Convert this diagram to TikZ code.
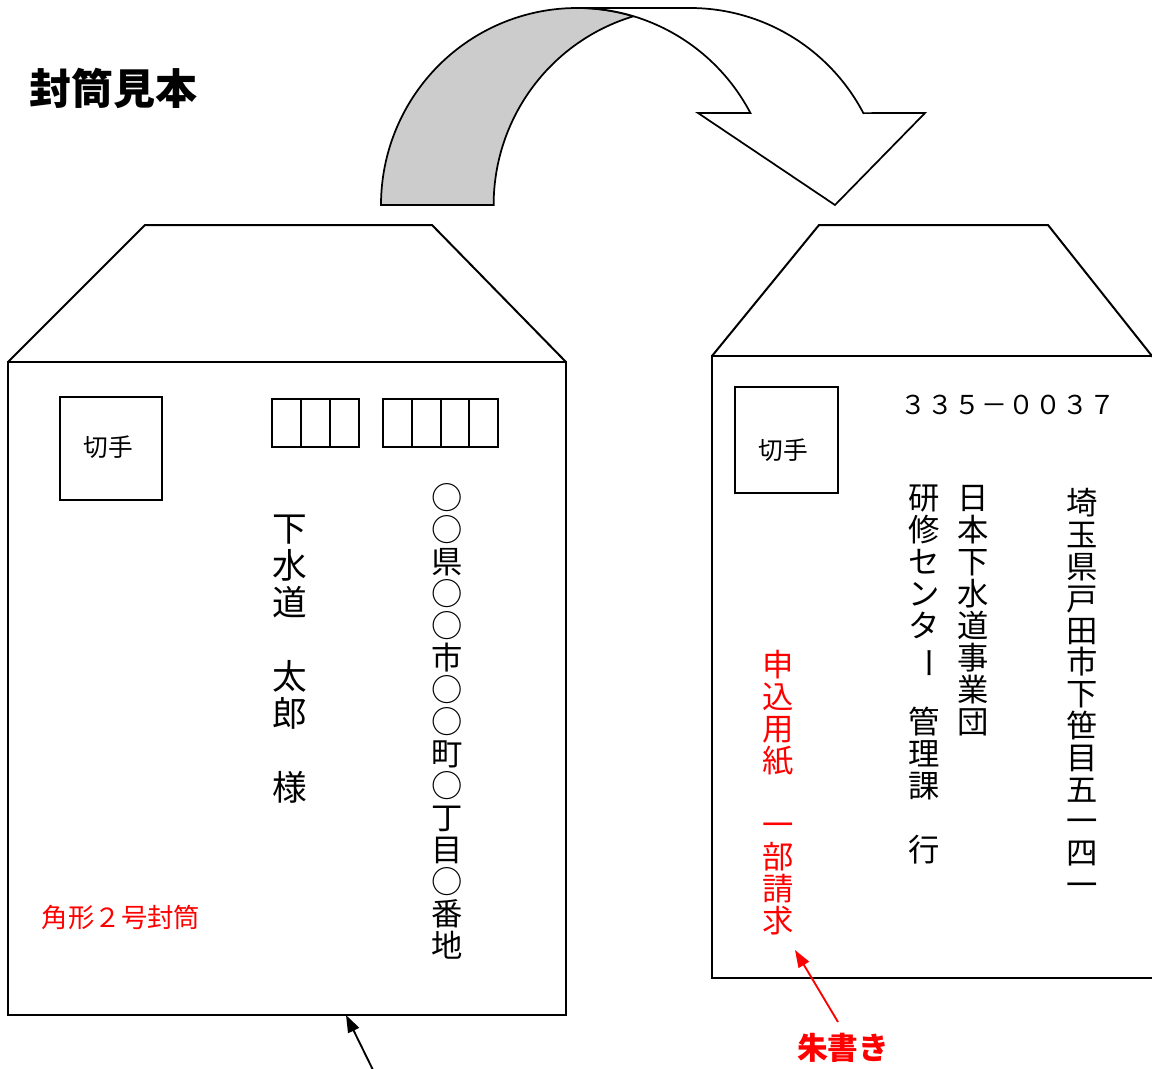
\documentclass[tikz,border=0pt]{standalone}
\usepackage{fontspec}
\usepackage{graphicx}
\usetikzlibrary{arrows.meta}
\newfontfamily\jp{Noto Sans CJK JP}
\definecolor{bandgrey}{RGB}{204,204,204}
\definecolor{jred}{RGB}{255,0,0}
\tikzset{
  envline/.style={line width=1.5pt, line join=miter},
  arcline/.style={line width=1.3pt, line join=miter},
  gridline/.style={line width=1.8pt},
  vch/.style={inner sep=0pt, anchor=base, font=\jp\fontsize{#1}{#1}\selectfont},
  arr/.style={line width=1.4pt, -{Triangle[length=13pt,width=9pt]}},
}
\begin{document}
\begin{tikzpicture}[x=0.75pt,y=-0.75pt]
\useasboundingbox (0,0) rectangle (1152,1068);
\clip (0,0) rectangle (1152,1068);

% title
\node[font=\jp\bfseries\fontsize{31.5pt}{31.5pt}\selectfont, inner sep=0pt] (title) at (113,88) {封筒見本};

% curved arrow
\filldraw[fill=bandgrey, arcline] (381,205)
  arc[start angle=180, end angle=286.7, x radius=196, y radius=197]
  arc[start angle=253.3, end angle=180, x radius=196, y radius=197] -- cycle;
\filldraw[fill=white, arcline] (577,8) -- (690,8)
  arc[start angle=270, end angle=332.2, x radius=196, y radius=197]
  -- (925,113) -- (835,205) -- (698,113) -- (750.4,113)
  arc[start angle=332.2, end angle=270, x radius=196, y radius=197] -- cycle;

% left envelope
\draw[envline] (8,362) -- (145,225) -- (432,225) -- (566,362);
\draw[envline] (8,362) rectangle (566,1015);
\draw[envline] (60,397) rectangle (162,500);
\node[font=\jp\fontsize{18.5pt}{18.5pt}\selectfont, inner sep=0pt] (stampL) at (108,447) {切手};
% postal grid
\draw[gridline] (272,399) rectangle (359,447);
\draw[gridline] (301,399) -- (301,447) (330,399) -- (330,447);
\draw[gridline] (383,399) rectangle (498,447);
\draw[gridline] (412,399) -- (412,447) (441,399) -- (441,447) (469,399) -- (469,447);
% name column
\foreach \c [count=\i from 0] in {下,水,道,{},太,郎,{},様}
  \node[vch=26pt] (nm\i) at (290,{528+37*\i+13.3}) {\c};
% address column
\foreach \c [count=\i from 0] in {○,○,県,○,○,市,○,○,町,○,丁,目,○,番,地}
  \node[vch=23.5pt] (ad\i) at (447,{498+32*\i+11.8}) {\c};
\node[font=\jp\fontsize{19.8pt}{19.8pt}\selectfont, text=jred, inner sep=0pt] (kaku) at (121,917) {角形２号封筒};

% right envelope
\draw[envline] (712,356) -- (819,225) -- (1048,225) -- (1165,372.4);
\draw[envline] (712,356) rectangle (1175,978);
\draw[envline] (735,387) rectangle (838,493);
\node[font=\jp\fontsize{18.5pt}{18.5pt}\selectfont, inner sep=0pt] (stampR) at (783,450) {切手};
\foreach \c [count=\i from 0] in {３,３,５,－,０,０,３,７}
  \node[vch=19.5pt] (zip\i) at ({913+27*\i},{405+9.5}) {\c};
\foreach \c [count=\i from 0] in {埼,玉,県,戸,田,市,下,笹,目,五,一,四,一}
  \node[vch=23.5pt] (to\i) at (1082,{503+31.8*\i+11.8}) {\c};
\foreach \c [count=\i from 0] in {日,本,下,水,道,事,業,団}
  \node[vch=23.5pt] (jg\i) at (973,{498+32*\i+11.8}) {\c};
\foreach \c [count=\i from 0] in {研,修,セ,ン,タ,{\rotatebox[origin=c]{-90}{ー}},{},管,理,課,{},行}
  \node[vch=23.5pt] (ks\i) at (924,{498+32*\i+11.8}) {\c};
\foreach \c [count=\i from 0] in {申,込,用,紙,{},一,部,請,求}
  \node[vch=23.5pt, text=jred] (mk\i) at (778,{665+32*\i+11.8}) {\c};

% labels and arrows
\node[font=\jp\bfseries\fontsize{23pt}{23pt}\selectfont, text=jred, inner sep=0pt] (shu) at (843,1048) {朱書き};
\coordinate (redTail) at (838,1022);
\coordinate (redHead) at (795,950);
\draw[arr, draw=jred, fill=jred] (redTail) -- (redHead);
\coordinate (blackTail) at (374,1072);
\coordinate (blackHead) at (346,1015);
\draw[arr] (blackTail) -- (blackHead);
\end{tikzpicture}
\end{document}
